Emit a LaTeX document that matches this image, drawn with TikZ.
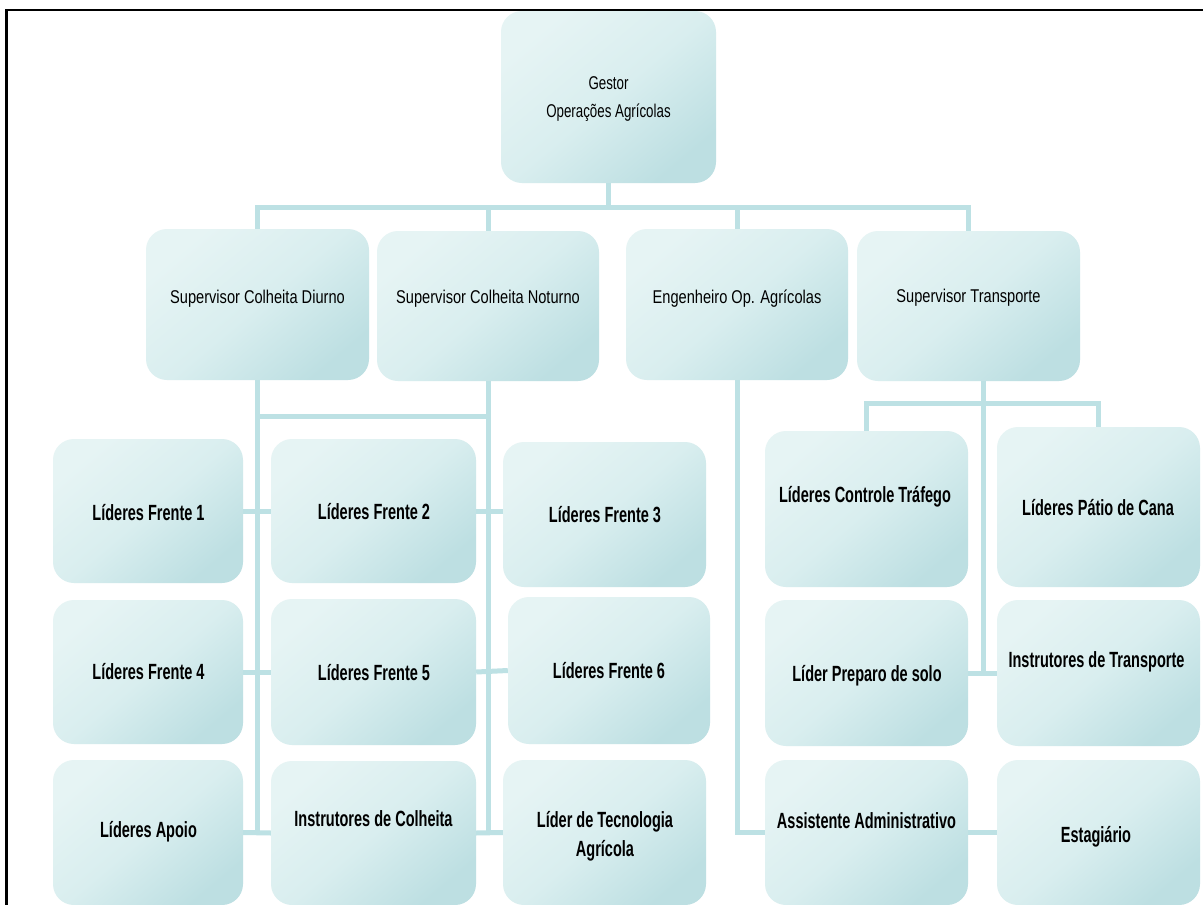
\documentclass[tikz,border=0pt]{standalone}
\usepackage{fontspec}
\setmainfont{Liberation Sans}
\newfontfamily\fgestor{Liberation Sans}[FakeStretch=0.72]
\newfontfamily\fsup{Liberation Sans}[FakeStretch=0.79]
\newfontfamily\fleaf{Liberation Sans}[FakeStretch=0.66]
\definecolor{boxlight}{HTML}{E6F4F4}
\definecolor{boxmid}{HTML}{D9EEEF}
\definecolor{boxdark}{HTML}{BDDFE2}
\definecolor{conncol}{HTML}{BDE1E4}
\begin{document}
\begin{tikzpicture}[x=1pt,y=-1pt,
  box/.style 2 args={rounded corners=21pt, minimum width=#1pt, minimum height=#2pt,
    inner sep=0pt, top color=boxlight, bottom color=boxdark, middle color=boxmid, shading angle=40},
  gtxt/.style={font=\fgestor\fontsize{18.5}{28}\selectfont, align=center, inner sep=0pt},
  stxt/.style={font=\fsup\fontsize{18.5}{26}\selectfont, align=center, inner sep=0pt},
  ltxt/.style={font=\fleaf\bfseries\fontsize{22}{29}\selectfont, align=center, inner sep=0pt},
  conn/.style={draw=conncol, line width=5pt}]
\useasboundingbox (0,0) rectangle (1203,905);
\fill[white] (0,0) rectangle (1203,905);

% boxes
\node[box={215}{172}] (gestor) at (608.5,97) {};
\node[box={223}{151}] (diurno) at (257.5,304.5) {};
\node[box={222}{150}] (noturno) at (488,306) {};
\node[box={222}{151}] (eng) at (737,304.5) {};
\node[box={223}{150}] (transp) at (968.5,306) {};

\node[box={190}{144}] (f1) at (148,511) {};
\node[box={190}{144}] (f4) at (148,672) {};
\node[box={190}{145}] (apoio) at (148,832.5) {};
\node[box={205}{144}] (f2) at (373.5,511) {};
\node[box={205}{146}] (f5) at (373.5,672) {};
\node[box={205}{144}] (instr) at (373.5,833) {};
\node[box={203}{145}] (f3) at (604.5,514.5) {};
\node[box={202}{147}] (f6) at (609,670.5) {};
\node[box={203}{145}] (tec) at (604.5,832.5) {};

\node[box={203}{156}] (ctrl) at (866.5,509) {};
\node[box={203}{146}] (preparo) at (866.5,673) {};
\node[box={203}{145}] (assist) at (866.5,832.5) {};
\node[box={203}{160}] (patio) at (1098.5,507) {};
\node[box={203}{146}] (instrT) at (1098.5,673) {};
\node[box={203}{145}] (estag) at (1098.5,832.5) {};

% texts
\node[gtxt] (gestor-t) at (608.5,99) {Gestor\\Operações Agrícolas};
\node[stxt] (diurno-t) at (257.5,299) {Supervisor Colheita Diurno};
\node[stxt] (noturno-t) at (488,299) {Supervisor Colheita Noturno};
\node[stxt] (eng-t) at (737,299) {Engenheiro Op. Agrícolas};
\node[stxt] (transp-t) at (968.5,298) {Supervisor Transporte};

\node[ltxt] (f1-t) at (148.5,513) {Líderes Frente 1};
\node[ltxt] (f2-t) at (374,512) {Líderes Frente 2};
\node[ltxt] (f3-t) at (605,515) {Líderes Frente 3};
\node[ltxt] (f4-t) at (148.5,672) {Líderes Frente 4};
\node[ltxt] (f5-t) at (374,673) {Líderes Frente 5};
\node[ltxt] (f6-t) at (609,671) {Líderes Frente 6};
\node[ltxt] (apoio-t) at (148.5,832) {Líderes Apoio};
\node[ltxt] (instr-t) at (373.5,819) {Instrutores de Colheita};
\node[ltxt] (tec-t) at (605,836) {Líder de Tecnologia\\Agrícola};
\node[ltxt] (ctrl-t) at (865,497) {Líderes Controle Tráfego};
\node[ltxt] (preparo-t) at (867,676) {Líder Preparo de solo};
\node[ltxt] (assist-t) at (866.5,821) {Assistente Administrativo};
\node[ltxt] (patio-t) at (1098,508) {Líderes Pátio de Cana};
\node[ltxt] (instrT-t) at (1096.5,662) {Instrutores de Transporte};
\node[ltxt] (estag-t) at (1096,837) {Estagiário};

% connectors
\coordinate (bus) at (0,207);
\coordinate (hl) at (0,416);
\coordinate (br) at (0,403);
\coordinate (tv) at (983,381);
\draw[conn] (gestor.south) -- (gestor.south |- bus);
\draw[conn] (diurno.north) -- (diurno.north |- bus) -- (transp.north |- bus) -- (transp.north);
\draw[conn] (noturno.north) -- (noturno.north |- bus);
\draw[conn] (eng.north) -- (eng.north |- bus);

\draw[conn] (diurno.south) -- (diurno.south |- apoio.east);
\draw[conn] (noturno.south) -- (noturno.south |- tec.west);
\draw[conn] (diurno.south |- hl) -- (noturno.south |- hl);
\draw[conn] (f1.east) -- (f2.west);
\draw[conn] (f2.east) -- (f2.east -| f3.west);
\draw[conn] (f4.east) -- (f5.west);
\draw[conn] (f5.east) -- (f6.west);
\draw[conn] (apoio.east) -- (instr.west);
\draw[conn] (instr.east) -- (tec.west);

\draw[conn] (eng.south) |- (assist.west);
\draw[conn] (tv) -- (tv |- preparo.east);
\draw[conn] (preparo.east) -- (instrT.west);
\draw[conn] (assist.east) -- (estag.west);
\draw[conn] (ctrl.north) -- (ctrl.north |- br) -- (patio.north |- br) -- (patio.north);

% frame
\draw[line width=2.2pt] (6.5,905) -- (6.5,10) -- (1203,10);
\end{tikzpicture}
\end{document}
